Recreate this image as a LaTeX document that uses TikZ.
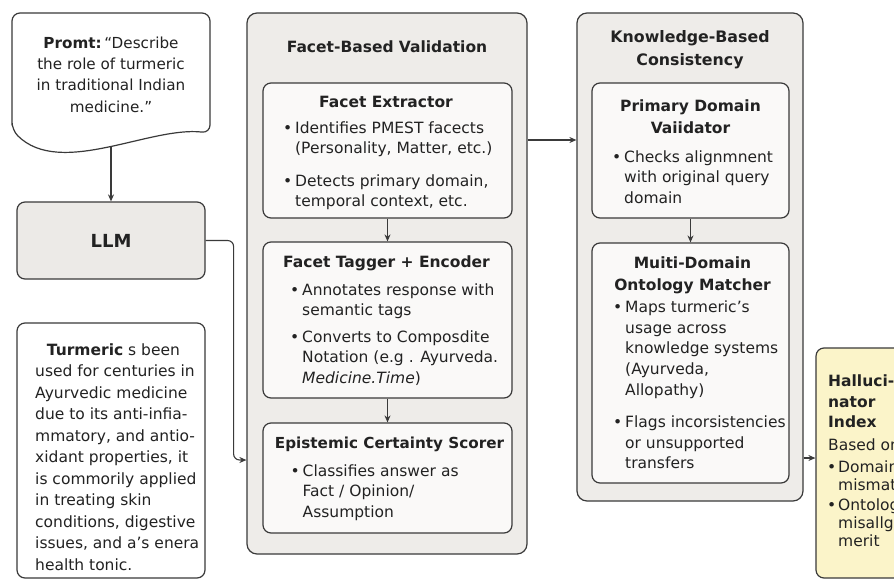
\documentclass[tikz,border=0pt]{standalone}
\usepackage{fontspec}
\setmainfont{DejaVu Sans}
\usetikzlibrary{arrows.meta}
\definecolor{lineC}{HTML}{3A3A3A}
\definecolor{inkC}{HTML}{222222}
\definecolor{panelC}{HTML}{EEECE9}
\definecolor{innerC}{HTML}{FAF9F8}
\definecolor{llmC}{HTML}{ECEAE7}
\definecolor{hiC}{HTML}{FBF4C9}
\newcommand\bu{\makebox[12pt][l]{\textbullet}}
\newcommand\hg{\hspace*{12pt}}
\begin{document}
\begin{tikzpicture}[x=1pt,y=-1pt,
  box/.style={draw=lineC, line width=1.2pt, rounded corners=8pt, inner sep=0pt},
  panel/.style={box, fill=panelC, rounded corners=10pt},
  innerbox/.style={box, fill=innerC},
  ttl/.style={inner sep=0pt, align=center, text=inkC, font=\fontsize{15.5}{22}\selectfont\bfseries},
  txt/.style={inner sep=0pt, align=left, anchor=north west, text=inkC, font=\fontsize{15.5}{20.5}\selectfont},
  arr/.style={draw=lineC, line width=1.1pt, -{Stealth[length=7pt,width=6pt]}},
]
\useasboundingbox (0,0) rectangle (894,581);
\fill[white] (0,0) rectangle (894,581);
\clip (0,0) rectangle (894,581);

% ---------- prompt (document shape) ----------
\draw[draw=lineC, line width=1.2pt, fill=white, rounded corners=8pt]
  (12,130) -- (12,13) -- (210,13) -- (210,133)
  .. controls (150,126) and (60,178) .. (12,130) -- cycle;
\coordinate (pb) at (111,146.5);
\node[txt, font=\fontsize{15.2}{21.3}\selectfont, align=center, anchor=north] (prompt) at (111,36.5)
  {\textbf{Promt:}\,“Describe\\the role of turmeric\\in traditional Indian\\medicine.”};

% ---------- LLM ----------
\node[box, fill=llmC, minimum width=188pt, minimum height=77pt, text=inkC,
      font=\fontsize{18}{22}\selectfont\bfseries] (llm) at (111,240.5) {LLM};

% ---------- response ----------
\node[box, fill=white, minimum width=188pt, minimum height=255pt] (resp) at (111,450.5) {};
\node[txt, font=\fontsize{15.5}{21.5}\selectfont] (resptxt) at (35,343.5)
  {\hspace*{11.7pt}\textbf{Turmeric} s been\\used for centuries in\\Ayurvedic medicine\\due to its anti-infia-\\mmatory, and antio-\\xidant properties, it\\is commorily applied\\in treating skin\\conditions, digestive\\issues, and a’s enera\\health tonic.};

% ---------- Facet-Based Validation ----------
\node[panel, minimum width=280pt, minimum height=541pt] (fbv) at (387,283.5) {};
\node[ttl] (fbvt) at (387,47) {Facet-Based Validation};

\node[innerbox, minimum width=249pt, minimum height=135pt] (fe) at (387.5,150.5) {};
\node[ttl] (fet) at (386,102) {Facet Extractor};
\node[txt] (feb) at (283,121.5)
  {\bu Identifies PMEST facects\\\hg(Personality, Matter, etc.)\\[12pt]\bu Detects primary domain,\\\hg temporal context, etc.};

\node[innerbox, minimum width=249pt, minimum height=156pt] (ft) at (387.5,320) {};
\node[ttl] (ftt) at (386.5,263) {Facet Tagger + Encoder};
\node[txt] (ftb) at (290,283.5)
  {\bu Annotates response with\\\hg semantic tags\\[6pt]\bu Converts to Composdite\\\hg Notation (e.g . Ayurveda.\\\hg\textit{Medicine.Time})};

\node[innerbox, minimum width=249pt, minimum height=110pt] (es) at (387.5,478) {};
\node[ttl, font=\fontsize{15.2}{22}\selectfont\bfseries] (est) at (389.5,444) {Epistemic Certainty Scorer};
\node[txt] (esb) at (290.5,464.2)
  {\bu Classifies answer as\\\hg Fact / Opinion/\\\hg Assumption};

% ---------- Knowledge-Based Consistency ----------
\node[panel, minimum width=226pt, minimum height=488pt] (kbc) at (690,257) {};
\node[ttl, font=\fontsize{15.8}{23.4}\selectfont\bfseries] (kbct) at (690,50) {Knowledge-Based\\Consistency};

\node[innerbox, minimum width=197pt, minimum height=135pt] (pdv) at (690.5,150.5) {};
\node[ttl, font=\fontsize{15.5}{22.3}\selectfont\bfseries] (pdvt) at (690.5,117) {Primary Domain\\Vaiidator};
\node[txt] (pdvb) at (612,150.2)
  {\bu Checks alignmnent\\\hg with original query\\\hg domain};

\node[innerbox, minimum width=197pt, minimum height=240pt] (mdo) at (690.5,363) {};
\node[ttl, font=\fontsize{15.5}{21.7}\selectfont\bfseries] (mdot) at (692.5,275) {Muiti-Domain\\Ontology Matcher};
\node[txt, font=\fontsize{15.5}{20.9}\selectfont] (mdob) at (613,300.2)
  {\bu Maps turmeric’s\\\hg usage across\\\hg knowledge systems\\\hg(Ayurveda,\\\hg Allopathy)\\[10.5pt]\bu Flags incorsistencies\\\hg or unsupported\\\hg transfers};

% ---------- Hallucinator Index ----------
\node[box, fill=hiC, minimum width=114pt, minimum height=230pt] (hi) at (873,463) {};
\node[txt, font=\fontsize{15.5}{20.7}\selectfont\bfseries] (hit) at (828,374.5) {Halluci-\\nator\\Index};
\node[txt] (hib) at (828,438.5) {Based on};
\node[txt, font=\fontsize{15.5}{18.3}\selectfont] (hil) at (827,460.5)
  {\makebox[11pt][l]{\textbullet}Domain\\\hspace*{11pt}mismatch\\[1pt]\makebox[11pt][l]{\textbullet}Ontology\\\hspace*{11pt}misallgn-\\\hspace*{11pt}merit};

% ---------- connectors ----------
\draw[arr] (pb) -- (llm.north);
\draw[arr, rounded corners=6pt] (llm.east) -- ++(28,0) |- (fbv.west |- 0,460);
\draw[arr] (fe.south) -- (ft.north);
\draw[arr] (ft.south) -- (es.north);
\draw[arr] (fbv.east |- 0,140) -- (kbc.west |- 0,140);
\draw[arr] (pdv.south) -- (mdo.north);
\draw[arr] (kbc.east |- 0,458) -- (hi.west |- 0,458);
\end{tikzpicture}
\end{document}
